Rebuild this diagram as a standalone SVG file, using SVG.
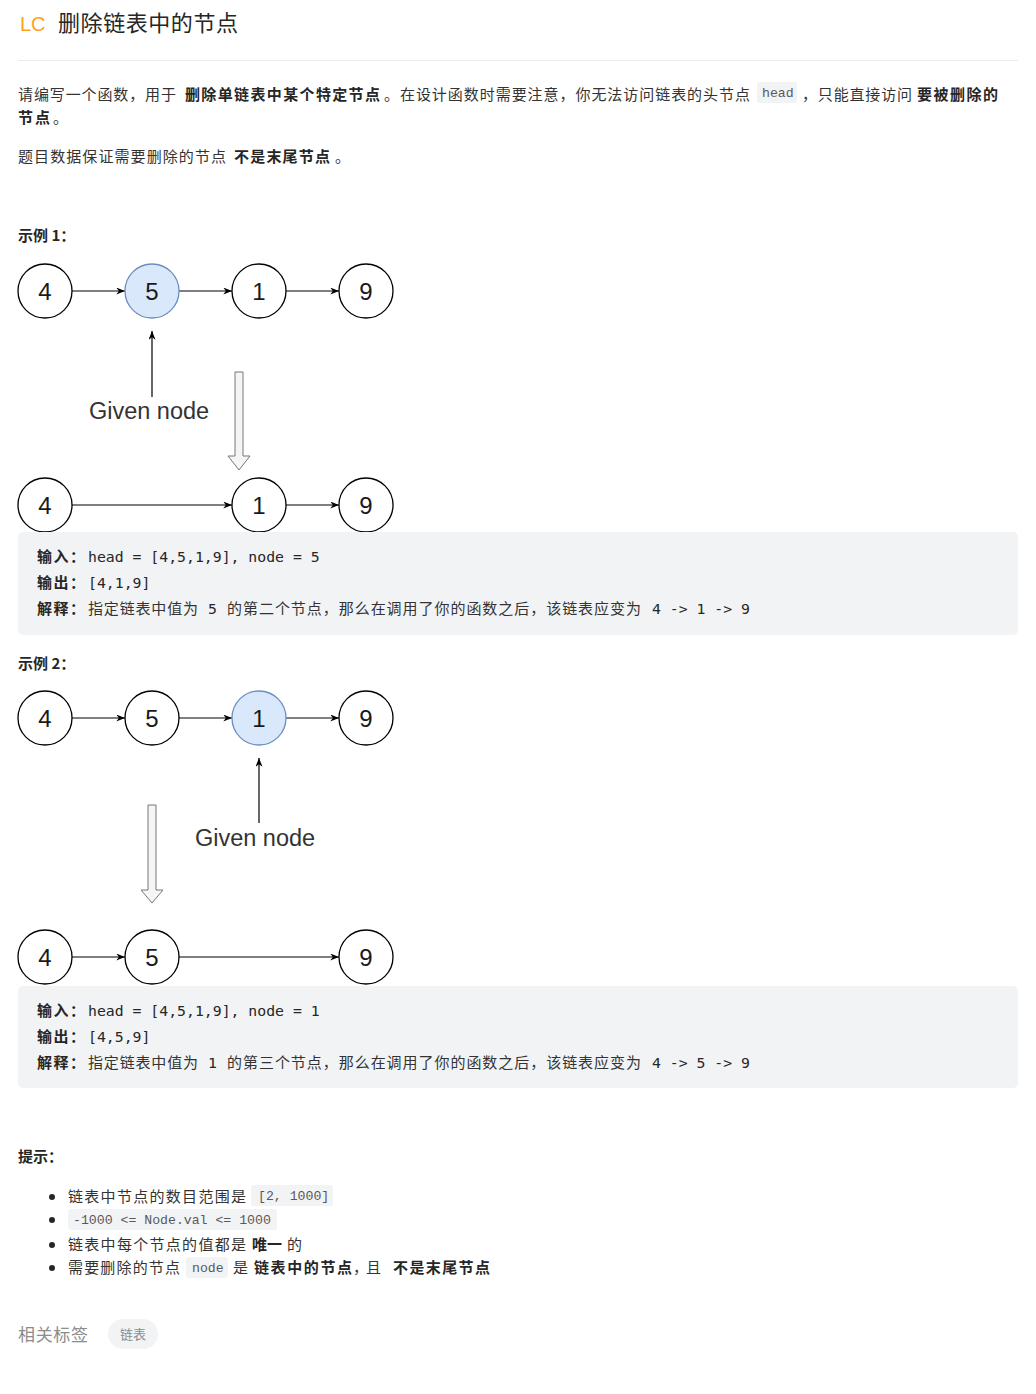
<svg xmlns="http://www.w3.org/2000/svg" width="1036" height="1394" viewBox="0 0 1036 1394">
<defs>
<style>
.cn{font-family:"Noto Sans CJK SC","Liberation Sans",sans-serif;font-size:15px;fill:#333}
.b{font-weight:bold;fill:#262626}
.mono{font-family:"DejaVu Sans Mono","Noto Sans CJK SC",monospace;font-size:14.8px;fill:#262626}
.ic{font-family:"Liberation Mono","Noto Sans CJK SC",monospace;font-size:13.2px;fill:#595959}
.icbox{fill:#f2f3f5}
.nd{fill:#fff;stroke:#000;stroke-width:1.3}
.hl{fill:#dae8fc;stroke:#6c8ebf;stroke-width:1.3}
.dg{font-family:"Liberation Sans",Arial,sans-serif;font-size:24px;fill:#1a1a1a;text-anchor:middle}
.gn{font-family:"Liberation Sans",Arial,sans-serif;font-size:23.5px;fill:#333;text-anchor:middle}
.ln{stroke:#000;stroke-width:1.2;fill:none;marker-end:url(#ah)}
.hollow{fill:#f5f5f5;stroke:#777;stroke-width:1}
.blk{fill:#f2f3f5}
.ttl{font-family:"Noto Sans CJK SC","Liberation Sans",sans-serif;font-size:22px;fill:#262626}
.tag{font-family:"Noto Sans CJK SC","Liberation Sans",sans-serif;fill:#8c8c8c}
</style>
<marker id="ah" viewBox="0 0 10 8" refX="10" refY="4" markerUnits="userSpaceOnUse" markerWidth="9" markerHeight="7" orient="auto">
<path d="M0,0 L10,4 L0,8 L3,4 z" fill="#000"/>
</marker>
</defs>
<rect width="1036" height="1394" fill="#fff"/>

<g id="title">
<text x="20" y="31" font-family="Liberation Sans,Arial,sans-serif" font-size="20" fill="#ffa116">LC</text>
<text x="58" y="31" class="ttl" textLength="180" lengthAdjust="spacing">删除链表中的节点</text>
<line x1="18" y1="60.5" x2="1018" y2="60.5" stroke="#ebebeb" stroke-width="1"/>
</g>

<g id="description">
<text x="18" y="100" class="cn" textLength="158" lengthAdjust="spacing">请编写一个函数，用于</text>
<text x="185" y="100" class="cn b" textLength="195" lengthAdjust="spacing">删除单链表中某个特定节点</text>
<text x="384" y="100" class="cn" textLength="366" lengthAdjust="spacing">。在设计函数时需要注意，你无法访问链表的头节点</text>
<rect x="757" y="82" width="40" height="21" rx="3" class="icbox"/>
<text x="762" y="97" class="ic">head</text>
<text x="802" y="100" class="cn" textLength="110" lengthAdjust="spacing">，只能直接访问</text>
<text x="917" y="100" class="cn b" textLength="81" lengthAdjust="spacing">要被删除的</text>
<text x="18" y="123" class="cn b" textLength="32" lengthAdjust="spacing">节点</text>
<text x="53" y="123" class="cn">。</text>
<text x="18" y="162" class="cn" textLength="208" lengthAdjust="spacing">题目数据保证需要删除的节点</text>
<text x="234" y="162" class="cn b" textLength="96" lengthAdjust="spacing">不是末尾节点</text>
<text x="335" y="162" class="cn">。</text>
</g>

<g id="example1-label">
<text x="18" y="241" class="cn b">示例 1：</text>
</g>

<g id="connectors">
<line x1="72" y1="291" x2="125" y2="291" class="ln"/>
<line x1="179" y1="291" x2="232" y2="291" class="ln"/>
<line x1="286" y1="291" x2="339" y2="291" class="ln"/>
<line x1="152" y1="397" x2="152" y2="331" class="ln"/>
<polygon points="235,372 243,372 243,456 250,456 239,470 228,456 235,456" class="hollow"/>
<line x1="72" y1="505" x2="232" y2="505" class="ln"/>
<line x1="286" y1="505" x2="339" y2="505" class="ln"/>

<line x1="72" y1="718" x2="125" y2="718" class="ln"/>
<line x1="179" y1="718" x2="232" y2="718" class="ln"/>
<line x1="286" y1="718" x2="339" y2="718" class="ln"/>
<line x1="259" y1="823" x2="259" y2="758" class="ln"/>
<polygon points="148,805 156,805 156,890 163,890 152,903 141,890 148,890" class="hollow"/>
<line x1="72" y1="957" x2="125" y2="957" class="ln"/>
<line x1="179" y1="957" x2="339" y2="957" class="ln"/>
</g>

<g id="ex1-n4"><circle cx="45" cy="291" r="27" class="nd"/><text x="45" y="299.5" class="dg">4</text></g>
<g id="ex1-n5"><circle cx="152" cy="291" r="27" class="hl"/><text x="152" y="299.5" class="dg">5</text></g>
<g id="ex1-n1"><circle cx="259" cy="291" r="27" class="nd"/><text x="259" y="299.5" class="dg">1</text></g>
<g id="ex1-n9"><circle cx="366" cy="291" r="27" class="nd"/><text x="366" y="299.5" class="dg">9</text></g>
<g id="ex1-given"><text x="149" y="419" class="gn">Given node</text></g>
<g id="ex1-r4"><circle cx="45" cy="505" r="27" class="nd"/><text x="45" y="513.5" class="dg">4</text></g>
<g id="ex1-r1"><circle cx="259" cy="505" r="27" class="nd"/><text x="259" y="513.5" class="dg">1</text></g>
<g id="ex1-r9"><circle cx="366" cy="505" r="27" class="nd"/><text x="366" y="513.5" class="dg">9</text></g>

<g id="example1-code">
<rect x="18" y="532" width="1000" height="103" rx="5" class="blk"/>
<text x="37" y="562" class="cn b" textLength="48" lengthAdjust="spacing">输入：</text>
<text x="88" y="562" class="mono">head = [4,5,1,9], node = 5</text>
<text x="37" y="588" class="cn b" textLength="48" lengthAdjust="spacing">输出：</text>
<text x="88" y="588" class="mono">[4,1,9]</text>
<text x="37" y="614" class="cn b" textLength="48" lengthAdjust="spacing">解释：</text>
<text x="88" y="614" class="cn" textLength="110" lengthAdjust="spacing">指定链表中值为</text>
<text x="208" y="614" class="mono">5</text>
<text x="227" y="614" class="cn" textLength="414" lengthAdjust="spacing">的第二个节点，那么在调用了你的函数之后，该链表应变为</text>
<text x="652" y="614" class="mono">4 -&gt; 1 -&gt; 9</text>
</g>

<g id="example2-label">
<text x="18" y="669" class="cn b">示例 2：</text>
</g>

<g id="ex2-n4"><circle cx="45" cy="718" r="27" class="nd"/><text x="45" y="726.5" class="dg">4</text></g>
<g id="ex2-n5"><circle cx="152" cy="718" r="27" class="nd"/><text x="152" y="726.5" class="dg">5</text></g>
<g id="ex2-n1"><circle cx="259" cy="718" r="27" class="hl"/><text x="259" y="726.5" class="dg">1</text></g>
<g id="ex2-n9"><circle cx="366" cy="718" r="27" class="nd"/><text x="366" y="726.5" class="dg">9</text></g>
<g id="ex2-given"><text x="255" y="846" class="gn">Given node</text></g>
<g id="ex2-r4"><circle cx="45" cy="957" r="27" class="nd"/><text x="45" y="965.5" class="dg">4</text></g>
<g id="ex2-r5"><circle cx="152" cy="957" r="27" class="nd"/><text x="152" y="965.5" class="dg">5</text></g>
<g id="ex2-r9"><circle cx="366" cy="957" r="27" class="nd"/><text x="366" y="965.5" class="dg">9</text></g>

<g id="example2-code">
<rect x="18" y="986" width="1000" height="102" rx="5" class="blk"/>
<text x="37" y="1016" class="cn b" textLength="48" lengthAdjust="spacing">输入：</text>
<text x="88" y="1016" class="mono">head = [4,5,1,9], node = 1</text>
<text x="37" y="1042" class="cn b" textLength="48" lengthAdjust="spacing">输出：</text>
<text x="88" y="1042" class="mono">[4,5,9]</text>
<text x="37" y="1068" class="cn b" textLength="48" lengthAdjust="spacing">解释：</text>
<text x="88" y="1068" class="cn" textLength="110" lengthAdjust="spacing">指定链表中值为</text>
<text x="208" y="1068" class="mono">1</text>
<text x="227" y="1068" class="cn" textLength="414" lengthAdjust="spacing">的第三个节点，那么在调用了你的函数之后，该链表应变为</text>
<text x="652" y="1068" class="mono">4 -&gt; 5 -&gt; 9</text>
</g>

<g id="hints">
<text x="18" y="1162" class="cn b">提示：</text>
<circle cx="52" cy="1197" r="3" fill="#262626"/>
<circle cx="52" cy="1220" r="3" fill="#262626"/>
<circle cx="52" cy="1245" r="3" fill="#262626"/>
<circle cx="52" cy="1268" r="3" fill="#262626"/>
<text x="68" y="1202" class="cn" textLength="178" lengthAdjust="spacing">链表中节点的数目范围是</text>
<rect x="251" y="1185" width="82" height="21" rx="3" class="icbox"/>
<text x="258" y="1200" class="ic">[2, 1000]</text>
<rect x="68" y="1209" width="209" height="21" rx="3" class="icbox"/>
<text x="73" y="1224" class="ic">-1000 &lt;= Node.val &lt;= 1000</text>
<text x="68" y="1250" class="cn" textLength="178" lengthAdjust="spacing">链表中每个节点的值都是</text>
<text x="252" y="1250" class="cn b" textLength="30" lengthAdjust="spacing">唯一</text>
<text x="287" y="1250" class="cn">的</text>
<text x="68" y="1273" class="cn" textLength="112" lengthAdjust="spacing">需要删除的节点</text>
<rect x="186" y="1257" width="42" height="21" rx="3" class="icbox"/>
<text x="192" y="1272" class="ic">node</text>
<text x="233" y="1273" class="cn">是</text>
<text x="254" y="1273" class="cn b" textLength="98" lengthAdjust="spacing">链表中的节点</text>
<text x="353" y="1273" class="cn" textLength="28" lengthAdjust="spacing">，且</text>
<text x="393" y="1273" class="cn b" textLength="97" lengthAdjust="spacing">不是末尾节点</text>
</g>

<g id="tags">
<text x="18" y="1341" class="tag" font-size="17" textLength="70" lengthAdjust="spacing">相关标签</text>
<rect x="108" y="1319" width="50" height="30" rx="15" fill="#f2f3f5"/>
<text x="133" y="1339" class="tag" font-size="13" text-anchor="middle">链表</text>
</g>
</svg>
